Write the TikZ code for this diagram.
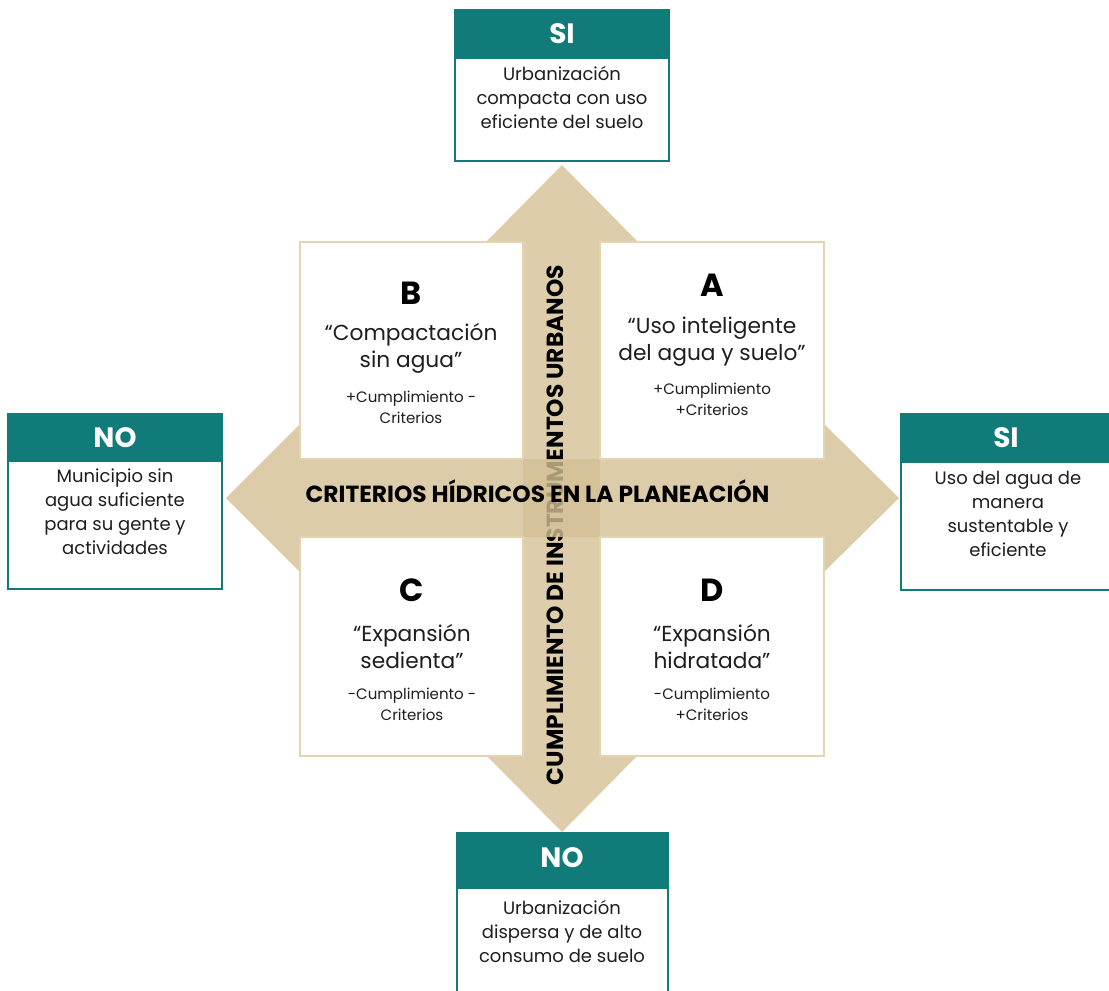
\documentclass[tikz,border=0pt]{standalone}
\usepackage{fontspec}
\setmainfont{Poppins}
\definecolor{teal1}{RGB}{16,123,120}
\definecolor{tanA}{RGB}{221,205,170}
\definecolor{tanB}{RGB}{212,192,149}
\definecolor{tanline}{RGB}{228,212,178}
\definecolor{txt}{RGB}{30,30,30}
\begin{document}
\begin{tikzpicture}[x=0.75pt,y=-0.75pt,
  hdrtext/.style={text=white, font=\bfseries\fontsize{21}{24}\selectfont, inner sep=0pt},
  bodytext/.style={text=txt, align=center, font=\fontsize{13.5}{18}\selectfont, inner sep=0pt},
  qletter/.style={text=black, font=\bfseries\fontsize{24}{28}\selectfont, inner sep=0pt},
  qtitle/.style={text=txt, align=center, font=\fontsize{16.3}{20.25}\selectfont, inner sep=0pt},
  qsub/.style={text=txt, align=center, font=\fontsize{11.3}{16}\selectfont, inner sep=0pt},
  axislabel/.style={text=black, font=\bfseries\fontsize{17.5}{19}\selectfont, inner sep=0pt},
  hdrbox/.style={fill=teal1, draw=teal1, line width=0.8pt},
  bodybox/.style={fill=white, draw=teal1, line width=0.8pt},
  quadbox/.style={fill=white, draw=tanline, line width=1.2pt}
]
\useasboundingbox (0,0) rectangle (1109,990);
\fill[white] (0,0) rectangle (1109,990);

% vertical arrow
\fill[tanA] (523,241) -- (487,241) -- (562,165) -- (637,241) -- (600,241)
  -- (600,756) -- (637,756) -- (562,832) -- (487,756) -- (523,756) -- cycle;
\node[axislabel, rotate=90] (vlabel) at (555,525) {CUMPLIMIENTO DE INSTRUMENTOS URBANOS};

% horizontal arrow
\fill[tanB, fill opacity=0.8] (300,459) -- (300,424) -- (226,498) -- (300,572) -- (300,537)
  -- (824,537) -- (824,572) -- (899,498) -- (824,424) -- (824,459) -- cycle;
\node[axislabel] (hlabel) at (537.5,491) {CRITERIOS HÍDRICOS EN LA PLANEACIÓN};

% quadrant boxes
\draw[quadbox] (300,242) rectangle (523,459);
\draw[quadbox] (600,242) rectangle (824,459);
\draw[quadbox] (300,537) rectangle (523,756);
\draw[quadbox] (600,537) rectangle (824,756);

\node[qletter] (Bl) at (411,293) {B};
\node[qtitle] (Bt) at (411,348.5) {“Compactación\\sin agua”};
\node[qsub] (Bs) at (411,407.5) {+Cumplimiento -\\Criterios};

\node[qletter] (Al) at (712,285) {A};
\node[qtitle] (At) at (712,341.5) {“Uso inteligente\\del agua y suelo”};
\node[qsub] (As) at (712,399.5) {+Cumplimiento\\+Criterios};

\node[qletter] (Cl) at (412,590) {C};
\node[qtitle] (Ct) at (412,646.5) {“Expansión\\sedienta”};
\node[qsub] (Cs) at (412,704) {-Cumplimiento -\\Criterios};

\node[qletter] (Dl) at (712,590) {D};
\node[qtitle] (Dt) at (712,646.5) {“Expansión\\hidratada”};
\node[qsub] (Ds) at (712,704) {-Cumplimiento\\+Criterios};

% top box
\draw[bodybox] (455,58) rectangle (669,161);
\draw[hdrbox] (455,10) rectangle (669,58);
\node[hdrtext] (topH) at (562,34) {SI};
\node[bodytext] (topB) at (562,97) {Urbanización\\compacta con uso\\eficiente del suelo};

% left box
\draw[bodybox] (8,461) rectangle (222,589);
\draw[hdrbox] (8,414) rectangle (222,461);
\node[hdrtext] (leftH) at (115,438) {NO};
\node[bodytext] (leftB) at (115,512) {Municipio sin\\agua suficiente\\para su gente y\\actividades};

% right box
\draw[bodybox] (901,462) rectangle (1112,590);
\draw[hdrbox] (901,414) rectangle (1112,462);
\node[hdrtext] (rightH) at (1006,438) {SI};
\node[bodytext] (rightB) at (1008,514) {Uso del agua de\\manera\\sustentable y\\eficiente};

% bottom box
\draw[bodybox] (457,888) rectangle (668,995);
\draw[hdrbox] (457,833) rectangle (668,888);
\node[hdrtext] (botH) at (562,858) {NO};
\node[bodytext] (botB) at (562,931) {Urbanización\\dispersa y de alto\\consumo de suelo};
\end{tikzpicture}
\end{document}
